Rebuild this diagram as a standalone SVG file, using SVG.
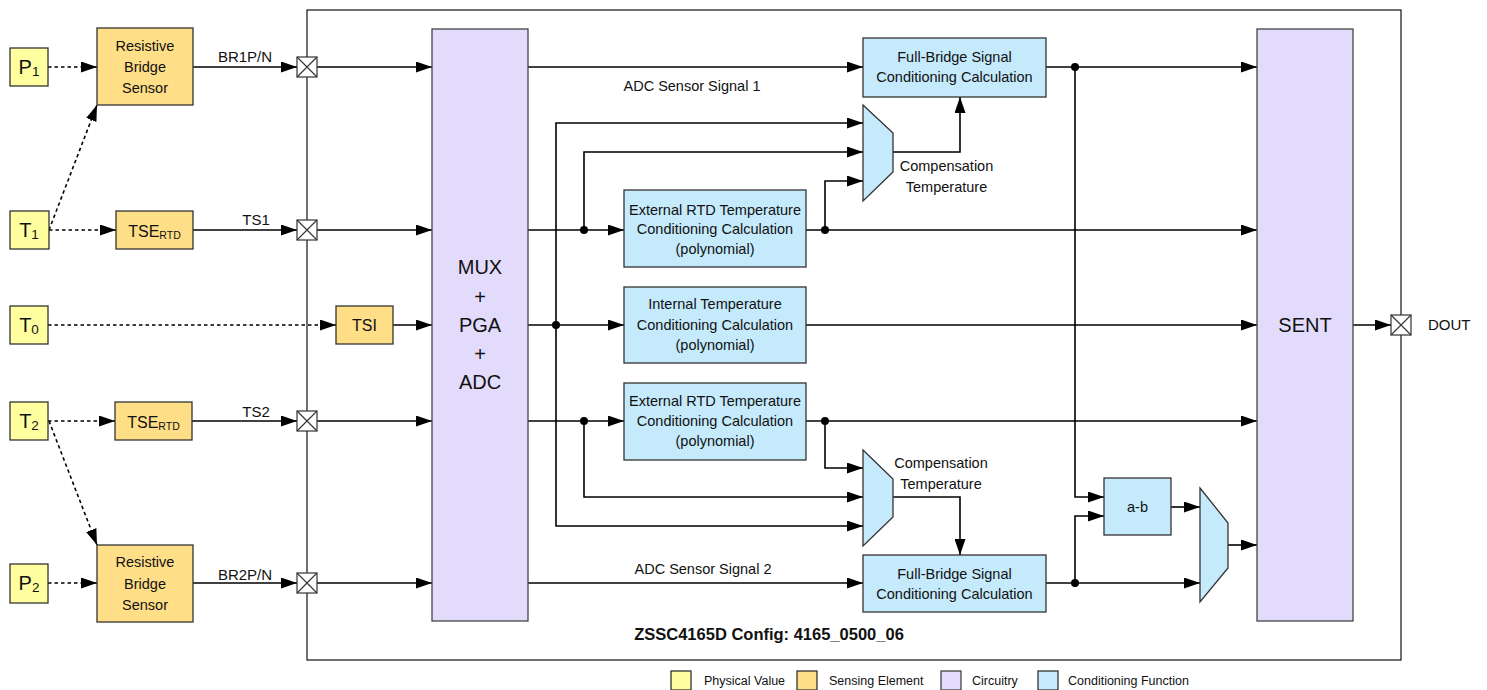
<svg xmlns="http://www.w3.org/2000/svg" width="1487" height="690" viewBox="0 0 1487 690">
  <style>
    text { font-family: "Liberation Sans", Arial, sans-serif; fill: #111; }
    .phys { fill: #FFFFA0; stroke: #333; stroke-width: 1.3; }
    .sens { fill: #FFDE88; stroke: #333; stroke-width: 1.3; }
    .circ { fill: #E3DBFC; stroke: #444; stroke-width: 1.3; }
    .cond { fill: #C5EAFC; stroke: #333; stroke-width: 1.3; }
    .frame { fill: none; stroke: #222; stroke-width: 1.3; }
    .pin rect { fill: #fff; stroke: #333; stroke-width: 1.2; }
    .pin path { stroke: #333; stroke-width: 1.1; fill: none; }
    .w { stroke: #000; stroke-width: 1.6; fill: none; }
    .d { stroke: #000; stroke-width: 1.6; fill: none; stroke-dasharray: 3.5 3; }
    .a { marker-end: url(#ah); }
    .dot { fill: #000; }
    .t14 { font-size: 14.5px; }
    .t15 { font-size: 15px; }
    .big { font-size: 20px; }
    .sym { font-size: 20px; }
    .leg { font-size: 12.5px; }
    .mid { text-anchor: middle; }
  </style>
  <defs>
    <marker id="ah" markerWidth="16" markerHeight="11" refX="16" refY="5.5" orient="auto" markerUnits="userSpaceOnUse">
      <path d="M0,0 L16,5.5 L0,11 z" fill="#000"/>
    </marker>
  </defs>

  <!-- chip boundary -->
  <rect class="frame" x="307" y="10" width="1094" height="650"/>

  <!-- signal connectors -->
  <g id="connectors">
    <!-- physical couplings (dotted) -->
    <path class="d a" d="M48,67 H97"/>
    <path class="d a" d="M49,230 L97,105"/>
    <path class="d a" d="M49,230 H116"/>
    <path class="d a" d="M48,325 H336"/>
    <path class="d a" d="M48,421 H115"/>
    <path class="d a" d="M49,421 L97,545"/>
    <path class="d a" d="M48,583 H97"/>

    <!-- sensors to pins -->
    <path class="w a" d="M193,67 H297"/>
    <path class="w a" d="M193,230 H297"/>
    <path class="w a" d="M192,421 H297"/>
    <path class="w a" d="M193,583 H297"/>

    <!-- pins to MUX -->
    <path class="w a" d="M317,67 H432"/>
    <path class="w a" d="M317,230 H432"/>
    <path class="w a" d="M393,325 H432"/>
    <path class="w a" d="M317,421 H432"/>
    <path class="w a" d="M317,583 H432"/>

    <!-- ADC outputs -->
    <path class="w a" d="M528,67 H863"/>
    <path class="w a" d="M528,230 H624"/>
    <path class="w a" d="M528,325 H624"/>
    <path class="w a" d="M528,421 H624"/>
    <path class="w a" d="M528,583 H863"/>

    <!-- raw temperature taps to compensation selectors -->
    <path class="w a" d="M556,325 V123 H863"/>
    <path class="w a" d="M584,230 V152 H863"/>
    <path class="w a" d="M556,325 V526 H863"/>
    <path class="w a" d="M584,421 V497 H863"/>

    <!-- temperature results -->
    <path class="w a" d="M806,230 H1257"/>
    <path class="w a" d="M825,230 V181 H863"/>
    <path class="w a" d="M806,325 H1257"/>
    <path class="w a" d="M806,421 H1257"/>
    <path class="w a" d="M825,421 V468 H863"/>

    <!-- compensation temperature into bridge conditioning -->
    <path class="w a" d="M893,152 H960 V97"/>
    <path class="w a" d="M893,497 H960 V555"/>

    <!-- bridge results -->
    <path class="w a" d="M1046,67 H1257"/>
    <path class="w a" d="M1075,67 V497 H1104"/>
    <path class="w a" d="M1046,583 H1200"/>
    <path class="w a" d="M1075,583 V516 H1104"/>
    <path class="w a" d="M1171,507 H1200"/>
    <path class="w a" d="M1228,545 H1257"/>

    <!-- SENT output -->
    <path class="w a" d="M1353,325 H1391"/>

    <!-- junctions -->
    <circle class="dot" cx="584" cy="230" r="4"/>
    <circle class="dot" cx="825" cy="230" r="4"/>
    <circle class="dot" cx="556" cy="325" r="4"/>
    <circle class="dot" cx="584" cy="421" r="4"/>
    <circle class="dot" cx="825" cy="421" r="4"/>
    <circle class="dot" cx="1075" cy="67" r="4"/>
    <circle class="dot" cx="1075" cy="583" r="4"/>

    <!-- wire labels -->
    <text class="t15 mid" x="245" y="62">BR1P/N</text>
    <text class="t15 mid" x="256" y="225">TS1</text>
    <text class="t15 mid" x="256" y="417">TS2</text>
    <text class="t15 mid" x="245" y="580">BR2P/N</text>
    <text class="t14 mid" x="692" y="91">ADC Sensor Signal 1</text>
    <text class="t14 mid" x="703" y="574">ADC Sensor Signal 2</text>
  </g>

  <!-- pins -->
  <g id="pin-br1" class="pin"><rect x="297" y="57" width="20" height="20"/><path d="M297,57 L317,77 M317,57 L297,77"/></g>
  <g id="pin-ts1" class="pin"><rect x="297" y="220" width="20" height="20"/><path d="M297,220 L317,240 M317,220 L297,240"/></g>
  <g id="pin-ts2" class="pin"><rect x="297" y="411" width="20" height="20"/><path d="M297,411 L317,431 M317,411 L297,431"/></g>
  <g id="pin-br2" class="pin"><rect x="297" y="573" width="20" height="20"/><path d="M297,573 L317,593 M317,573 L297,593"/></g>
  <g id="pin-dout" class="pin"><rect x="1391" y="315" width="20" height="20"/><path d="M1391,315 L1411,335 M1411,315 L1391,335"/></g>
  <text class="t15" x="1428" y="330">DOUT</text>

  <!-- physical values -->
  <g id="p1"><rect class="phys" x="10" y="48" width="38" height="38"/>
    <text class="sym mid" x="29" y="74">P<tspan font-size="13.5" dy="2">1</tspan></text></g>
  <g id="t1"><rect class="phys" x="10" y="211" width="39" height="38"/>
    <text class="sym mid" x="29" y="237">T<tspan font-size="13.5" dy="2">1</tspan></text></g>
  <g id="t0"><rect class="phys" x="10" y="306" width="38" height="38"/>
    <text class="sym mid" x="29" y="332">T<tspan font-size="13.5" dy="2">0</tspan></text></g>
  <g id="t2"><rect class="phys" x="10" y="402" width="38" height="38"/>
    <text class="sym mid" x="29" y="428">T<tspan font-size="13.5" dy="2">2</tspan></text></g>
  <g id="p2"><rect class="phys" x="10" y="564" width="38" height="39"/>
    <text class="sym mid" x="29" y="590">P<tspan font-size="13.5" dy="2">2</tspan></text></g>

  <!-- sensing elements -->
  <g id="bridge1"><rect class="sens" x="97" y="28" width="96" height="77"/>
    <text class="t14 mid" x="145" y="51">Resistive</text>
    <text class="t14 mid" x="145" y="72">Bridge</text>
    <text class="t14 mid" x="145" y="93">Sensor</text></g>
  <g id="tse1"><rect class="sens" x="116" y="211" width="77" height="38"/>
    <text class="mid" x="154.5" y="237" font-size="16">TSE<tspan font-size="10.5" dy="2">RTD</tspan></text></g>
  <g id="tsi"><rect class="sens" x="336" y="306" width="57" height="38"/>
    <text class="mid" x="364.5" y="331" font-size="16">TSI</text></g>
  <g id="tse2"><rect class="sens" x="115" y="402" width="77" height="38"/>
    <text class="mid" x="153.5" y="428" font-size="16">TSE<tspan font-size="10.5" dy="2">RTD</tspan></text></g>
  <g id="bridge2"><rect class="sens" x="97" y="545" width="96" height="77"/>
    <text class="t14 mid" x="145" y="567">Resistive</text>
    <text class="t14 mid" x="145" y="589">Bridge</text>
    <text class="t14 mid" x="145" y="610">Sensor</text></g>

  <!-- circuitry -->
  <g id="mux-pga-adc"><rect class="circ" x="432" y="29" width="96" height="592"/>
    <text class="big mid" x="480" y="274">MUX</text>
    <text class="big mid" x="480" y="304">+</text>
    <text class="big mid" x="480" y="332">PGA</text>
    <text class="big mid" x="480" y="361">+</text>
    <text class="big mid" x="480" y="389">ADC</text></g>
  <g id="sent"><rect class="circ" x="1257" y="29" width="96" height="592"/>
    <text class="big mid" x="1305" y="332">SENT</text></g>

  <!-- conditioning functions -->
  <g id="fb1"><rect class="cond" x="863" y="38" width="183" height="59"/>
    <text class="t14 mid" x="954.5" y="62">Full-Bridge Signal</text>
    <text class="t14 mid" x="954.5" y="82">Conditioning Calculation</text></g>
  <g id="comp-sel1"><path class="cond" d="M863,105 L893,133 L893,172 L863,201 z"/>
    <text class="t14 mid" x="946.5" y="171">Compensation</text>
    <text class="t14 mid" x="946.5" y="192">Temperature</text></g>
  <g id="ext-rtd1"><rect class="cond" x="624" y="190" width="182" height="77"/>
    <text class="t14 mid" x="715" y="215">External RTD Temperature</text>
    <text class="t14 mid" x="715" y="234">Conditioning Calculation</text>
    <text class="t14 mid" x="715" y="254">(polynomial)</text></g>
  <g id="int-temp"><rect class="cond" x="624" y="287" width="182" height="76"/>
    <text class="t14 mid" x="715" y="309">Internal Temperature</text>
    <text class="t14 mid" x="715" y="330">Conditioning Calculation</text>
    <text class="t14 mid" x="715" y="350">(polynomial)</text></g>
  <g id="ext-rtd2"><rect class="cond" x="624" y="383" width="182" height="77"/>
    <text class="t14 mid" x="715" y="406">External RTD Temperature</text>
    <text class="t14 mid" x="715" y="426">Conditioning Calculation</text>
    <text class="t14 mid" x="715" y="446">(polynomial)</text></g>
  <g id="comp-sel2"><path class="cond" d="M863,450 L893,479 L893,517 L863,546 z"/>
    <text class="t14 mid" x="941" y="468">Compensation</text>
    <text class="t14 mid" x="941" y="489">Temperature</text></g>
  <g id="fb2"><rect class="cond" x="863" y="555" width="183" height="57"/>
    <text class="t14 mid" x="954.5" y="579">Full-Bridge Signal</text>
    <text class="t14 mid" x="954.5" y="599">Conditioning Calculation</text></g>
  <g id="diff"><rect class="cond" x="1104" y="478" width="67" height="57"/>
    <text class="t14 mid" x="1137.5" y="512">a-b</text></g>
  <g id="out-sel"><path class="cond" d="M1200,488 L1228,523 L1228,568 L1200,602 z"/></g>

  <!-- configuration caption -->
  <text x="769" y="640" class="mid" font-size="16.5" font-weight="bold">ZSSC4165D Config: 4165_0500_06</text>

  <!-- legend -->
  <g id="legend">
    <rect class="phys" x="671" y="671" width="20" height="19"/>
    <text class="leg" x="704" y="685">Physical Value</text>
    <rect class="sens" x="797" y="671" width="20" height="19"/>
    <text class="leg" x="829" y="685">Sensing Element</text>
    <rect class="circ" x="941" y="671" width="20" height="19"/>
    <text class="leg" x="972" y="685">Circuitry</text>
    <rect class="cond" x="1038" y="671" width="20" height="19"/>
    <text class="leg" x="1068" y="685">Conditioning Function</text>
  </g>
</svg>
